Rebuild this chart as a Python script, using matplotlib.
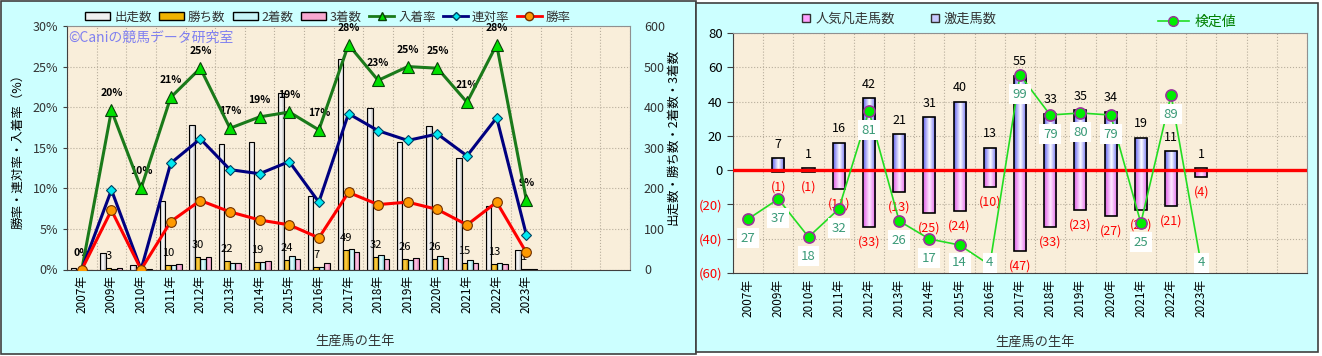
import numpy as np
import matplotlib.pyplot as plt
from matplotlib.colors import LinearSegmentedColormap
from matplotlib.lines import Line2D
from matplotlib.patches import Rectangle, Patch

plt.rcParams['font.family'] = ['Noto Sans CJK JP', 'DejaVu Sans']

years = ["2007年", "2009年", "2010年", "2011年", "2012年", "2013年", "2014年", "2015年",
         "2016年", "2017年", "2018年", "2019年", "2020年", "2021年", "2022年", "2023年"]

# left chart: counts
starts = [4, 41, 10, 170, 355, 309, 313, 436, 180, 518, 398, 314, 353, 274, 156, 47]
wins = [0, 3, 0, 10, 30, 22, 19, 24, 7, 49, 32, 26, 26, 15, 13, 1]
seconds = [0, 1, 0, 12, 27, 16, 18, 34, 7, 50, 36, 24, 33, 24, 16, 1]
thirds = [0, 4, 1, 14, 31, 16, 22, 27, 16, 44, 25, 29, 29, 17, 14, 2]
# left chart: rates (%)
win_rate = [0.0, 7.3, 0.0, 5.9, 8.5, 7.1, 6.1, 5.5, 3.9, 9.5, 8.0, 8.3, 7.4, 5.5, 8.3, 2.1]
rentai_rate = [0.0, 9.8, 0.0, 13.1, 16.1, 12.3, 11.8, 13.3, 8.3, 19.2, 17.1, 15.9, 16.7, 14.0, 18.7, 4.3]
place_rate = [0.0, 19.6, 10.0, 21.2, 24.8, 17.4, 18.8, 19.4, 17.2, 27.7, 23.3, 25.0, 24.8, 20.6, 27.7, 8.6]

# right chart
hot_runs = [0, 7, 1, 16, 42, 21, 31, 40, 13, 55, 33, 35, 34, 19, 11, 1]
flops = [0, 1, 1, 11, 33, 13, 25, 24, 10, 47, 33, 23, 27, 23, 21, 4]
score = [27, 37, 18, 32, 81, 26, 17, 14, 4, 99, 79, 80, 79, 25, 89, 4]

W, H = 1322, 356
BG = '#CCFFFF'
PLOT_BG = '#F9EEDA'
GRID = '#B8AE9C'


def fx(px):
    return px / W


def fy(py):
    return 1 - py / H


def shade_bars(ax, bars, edge, mid):
    cmap = LinearSegmentedColormap.from_list('g', [edge, mid, edge])
    grad = np.linspace(0, 1, 32)[None, :]
    for b in bars:
        h = b.get_height()
        if h == 0:
            continue
        x0, y0, w = b.get_x(), b.get_y(), b.get_width()
        im = ax.imshow(grad, cmap=cmap, aspect='auto', interpolation='bilinear',
                       extent=(x0, x0 + w, min(y0, y0 + h), max(y0, y0 + h)),
                       zorder=b.get_zorder() - 0.01)
        im.set_clip_path(b)
        b.set_facecolor('none')


def style_axes(ax):
    ax.set_facecolor(PLOT_BG)
    for side in ['left', 'bottom']:
        ax.spines[side].set_color('#404040')
    for side in ['top', 'right']:
        ax.spines[side].set_color('#909090')
    ax.set_xlim(-0.5, 18.5)
    ax.set_xticks(range(len(years)))
    ax.set_xticklabels(years, rotation=90, fontsize=8.5)
    ax.set_xticks(np.arange(-0.5, 19, 1), minor=True)
    ax.tick_params(axis='x', which='both', length=0, pad=4)
    ax.grid(which='minor', axis='x', color=GRID, ls=':', lw=0.8)
    ax.grid(which='major', axis='y', color=GRID, ls=':', lw=0.8)
    ax.set_axisbelow(True)


fig = plt.figure(figsize=(W / 100, H / 100), dpi=100, facecolor='white')
fig.patches.append(Rectangle((fx(1), fy(354)), fx(695), 353 / H, transform=fig.transFigure,
                             facecolor=BG, edgecolor='#404040', lw=1.2, zorder=-2))
fig.patches.append(Rectangle((fx(696), fy(352)), fx(622), 349 / H, transform=fig.transFigure,
                             facecolor=BG, edgecolor='#404040', lw=1.2, zorder=-1))

# ---------------- left chart ----------------
x = np.arange(len(years))
ax = fig.add_axes([fx(67), fy(269.5), fx(563), 243.5 / H])
style_axes(ax)
bw = 0.185
series = [
    (starts, -1.5, '#B8B8B8', '#FFFFFF'),
    (wins, -0.5, '#D89A00', '#FFD24A'),
    (seconds, 0.5, '#90D8E0', '#E4FFFF'),
    (thirds, 1.5, '#E080B8', '#FFCCE4'),
]
for vals, off, edge, mid in series:
    bars = ax.bar(x + off * bw, vals, bw, edgecolor='black', lw=0.8, zorder=2)
    shade_bars(ax, bars, edge, mid)
for xi, v in zip(x, wins):
    if v > 0:
        ax.annotate(str(v), (xi - 0.5 * bw, v), xytext=(0, 12), textcoords='offset pixels',
                    ha='center', va='center', fontsize=8, color='black', zorder=5)
ax.set_ylim(0, 600)
ax.set_yticks(range(0, 601, 100))

axr = ax.twinx()
# twinx moves the host ticks to the left, so put counts on the right afterwards
ax.yaxis.tick_right()
ax.tick_params(axis='y', labelsize=9, labelcolor='#333333', length=0, pad=10)
axr.plot(x, place_rate, color='#1A7A1A', lw=2.2, marker='^', ms=8,
         mfc='#00E000', mec='#0A400A', mew=0.8, zorder=4)
axr.plot(x, rentai_rate, color='#000080', lw=2.2, marker='D', ms=5.5,
         mfc='#00E8F0', mec='#004060', mew=0.8, zorder=4)
axr.plot(x, win_rate, color='#FF0000', lw=2.2, marker='o', ms=7,
         mfc='#FF9900', mec='#703000', mew=0.8, zorder=4)
for xi, v in zip(x, place_rate):
    axr.annotate(f"{v:.0f}%", (xi, v), xytext=(0, 17), textcoords='offset pixels',
                 ha='center', va='center', fontsize=7.5, fontweight='bold', color='black')
axr.set_ylim(0, 30)
axr.set_yticks(range(0, 31, 5))
axr.set_yticklabels([f"{t}%" for t in range(0, 31, 5)])
axr.yaxis.tick_left()
axr.tick_params(axis='y', labelsize=9, labelcolor='#333333', length=3, color='#404040')
for s in axr.spines.values():
    s.set_visible(False)
axr.text(0.002, 0.95, "©Caniの競馬データ研究室", transform=axr.transAxes, fontsize=10,
         color='#8080F0', ha='left', va='center')

left_handles = [
    Patch(facecolor='#F0F0F0', edgecolor='black'),
    Patch(facecolor='#F0B400', edgecolor='black'),
    Patch(facecolor='#C8F4F8', edgecolor='black'),
    Patch(facecolor='#F8A8D0', edgecolor='black'),
    Line2D([0], [0], color='#1A7A1A', lw=2, marker='^', ms=6, mfc='#00E000', mec='#0A400A'),
    Line2D([0], [0], color='#000080', lw=2, marker='D', ms=4.5, mfc='#00E8F0', mec='#004060'),
    Line2D([0], [0], color='#FF0000', lw=2, marker='o', ms=6, mfc='#FF9900', mec='#703000'),
]
left_labels = ["出走数", "勝ち数", "2着数", "3着数", "入着率", "連対率", "勝率"]
fig.legend(left_handles, left_labels, loc='center', bbox_to_anchor=(fx(328), fy(17)), ncol=7,
           frameon=False, fontsize=9, handlelength=2.0, handleheight=0.55,
           handletextpad=0.3, columnspacing=0.6, labelcolor='#333333')

fig.text(fx(18), fy(148), "勝率・連対率・入着率（%）", rotation=90, ha='center', va='center',
         fontsize=9, color='black')
fig.text(fx(673), fy(137), "出走数・勝ち数・2着数・3着数", rotation=90, ha='center', va='center',
         fontsize=9, color='black')
fig.text(fx(355), fy(341), "生産馬の生年", ha='center', va='center', fontsize=9.5, color='#333333')

# ---------------- right chart ----------------
bx = fig.add_axes([fx(733), fy(273), fx(574), 240 / H])
style_axes(bx)
rw = 0.4
hot_bars = bx.bar(x, hot_runs, rw, edgecolor='black', lw=1.2, zorder=2)
shade_bars(bx, hot_bars, '#6464F0', '#FFFFFF')
flop_bars = bx.bar(x, [-v for v in flops], rw, edgecolor='black', lw=1.2, zorder=2)
shade_bars(bx, flop_bars, '#E060E8', '#FFE8FF')
bx.axhline(0, color='#FF0000', lw=2.4, zorder=3)
for xi, v in zip(x, hot_runs):
    if v > 0:
        bx.annotate(str(v), (xi, v), xytext=(0, 14), textcoords='offset pixels',
                    ha='center', va='center', fontsize=9, color='black')
for xi, v in zip(x, flops):
    if v > 0:
        bx.annotate(f"({v})", (xi, -v), xytext=(0, -15), textcoords='offset pixels',
                    ha='center', va='center', fontsize=9, color='#FF0000')
bx.set_ylim(-60, 80)
yt = list(range(-60, 81, 20))
bx.set_yticks(yt)
bx.set_yticklabels([f"({-t})" if t < 0 else str(t) for t in yt])
for lab, t in zip(bx.get_yticklabels(), yt):
    lab.set_color('#FF0000' if t < 0 else 'black')
bx.tick_params(axis='y', labelsize=9.5, length=4, color='#404040')

sx = bx.twinx()
sx.plot(x, score, color='#22DD22', lw=1.2, marker='o', ms=8, mfc='#00EE00',
        mec='#993399', mew=1.2, zorder=4)
label_y = np.maximum(np.array(score) - 9.5, 5.2)
for xi, v, ly in zip(x, score, label_y):
    sx.text(xi, ly, str(v), ha='center', va='center', fontsize=9.5, color='#3A9A78', zorder=6,
            bbox=dict(facecolor='white', edgecolor='none', pad=2.6))
sx.set_ylim(0, 120)
sx.set_yticks([])
for s in sx.spines.values():
    s.set_visible(False)

fig.legend([Line2D([0], [0], ls='none', marker='s', ms=6, mfc='#FFA0FF', mec='#303030'),
            Line2D([0], [0], ls='none', marker='s', ms=6, mfc='#C8C8FF', mec='#303030')],
           ["人気凡走馬数", "激走馬数"], loc='center', bbox_to_anchor=(fx(899), fy(19)), ncol=2,
           frameon=False, fontsize=9.5, handlelength=0.8, handletextpad=0.3, columnspacing=2.6,
           labelcolor='#333333')
fig.legend([Line2D([0], [0], color='#22DD22', lw=1.2, marker='o', ms=7, mfc='#00EE00',
                   mec='#993399')],
           ["検定値"], loc='center', bbox_to_anchor=(fx(1197), fy(22)), frameon=False,
           fontsize=10, handlelength=2.2, handletextpad=0.4, labelcolor='#008000')
fig.text(fx(1035), fy(342), "生産馬の生年", ha='center', va='center', fontsize=9.5, color='#333333')

fig.savefig('out.png', dpi=100, facecolor='white')
